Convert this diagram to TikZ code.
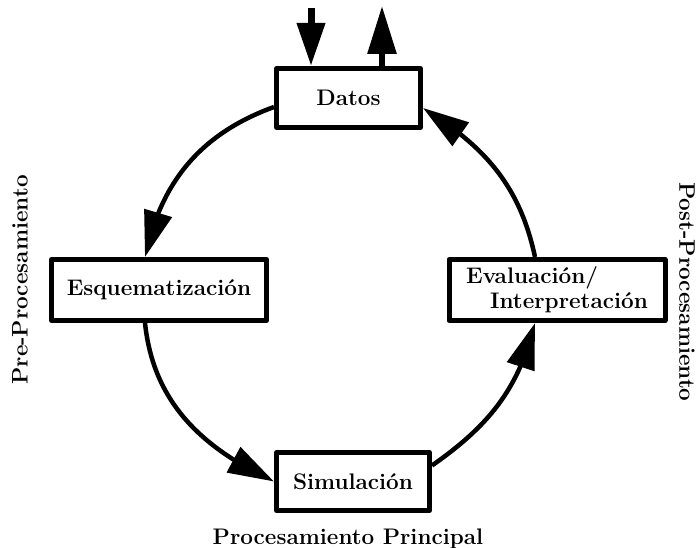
\documentclass[tikz,border=0pt]{standalone}
\usepackage{tikz}
\usetikzlibrary{arrows.meta,bending}

\begin{document}
\begin{tikzpicture}[
	x=1pt,
	y=1pt,
	line join=round,
	caja/.style={draw,line width=5pt,inner sep=0pt,font=\fontsize{22.5}{25}\selectfont\bfseries},
	ciclo/.style={line width=4.5pt,-{Triangle[length=46pt,width=28pt,flex]}},
	etiqueta/.style={font=\fontsize{22.5}{25}\selectfont\bfseries}
	]
	
	\useasboundingbox (0,0) rectangle (697,548);
	
	% cajas
	\node[caja,minimum width=144pt,minimum height=59pt] (datos) at (348.5,450) {Datos};
	\node[caja,minimum width=215pt,minimum height=61pt] (esquema) at (159,258) {Esquematización};
	\node[caja,minimum width=216pt,minimum height=61pt,align=left] (evalua) at (557,258)
	{Evaluación/\\\hspace*{24pt}Interpretación};
	\node[caja,minimum width=153pt,minimum height=58pt] (simul) at (353,66.5) {Simulación};
	
	% ciclo
	\draw[ciclo] ([yshift=-9pt]datos.west) to[out=200,in=78] ([xshift=-14pt]esquema.north);
	\draw[ciclo] ([xshift=-14pt]esquema.south) to[out=-84,in=155] (simul.west);
	\draw[ciclo] ([yshift=16pt]simul.east) to[out=35,in=-104] ([xshift=-22pt]evalua.south);
	\draw[ciclo] ([xshift=-22pt]evalua.north) to[out=102,in=-32] ([yshift=-10pt]datos.east);
	
	% entrada y salida
	\coordinate (entrada) at (311,540);
	\coordinate (salida) at (382,542);
	\draw[line width=7pt,-{Triangle[length=43pt,width=27pt]}] (entrada) -- (entrada |- datos.north);
	\draw[line width=6pt,-{Triangle[length=48pt,width=28pt]}] (salida |- datos.north) -- (salida);
	
	% etiquetas
	\node[etiqueta,rotate=90] (pre) at (20,268) {Pre-Procesamiento};
	\node[etiqueta,rotate=-90] (post) at (687,256) {Post-Procesamiento};
	\node[etiqueta,anchor=base] (principal) at (348,3) {Procesamiento Principal};
	
\end{tikzpicture}
\end{document}
